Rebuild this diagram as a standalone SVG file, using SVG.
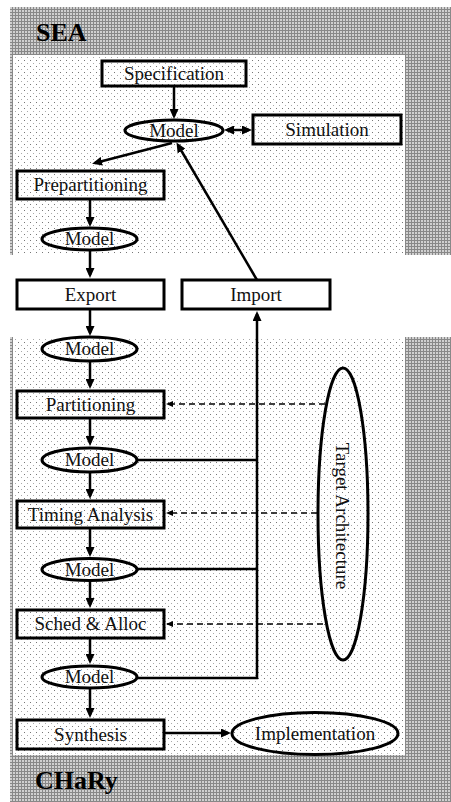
<svg xmlns="http://www.w3.org/2000/svg" width="451" height="802" viewBox="0 0 451 802">
<style>
.box{fill:none;stroke:#000;stroke-width:3}
.ell{fill:none;stroke:#000;stroke-width:3}
.t{font-family:"Liberation Serif","Times New Roman",serif;font-size:19px;fill:#111;text-anchor:middle}
.title{font-family:"Liberation Serif","Times New Roman",serif;font-size:26px;font-weight:bold;fill:#000}
.ln{fill:none;stroke:#000;stroke-width:2.5}
.dash{fill:none;stroke:#000;stroke-width:1.3;stroke-dasharray:6 4}
</style>
<defs>
<pattern id="dark" width="3" height="3" patternUnits="userSpaceOnUse">
<rect width="3" height="3" fill="#d0d0d0"/>
<rect width="1" height="3" fill="#888"/>
<rect width="3" height="1" fill="#888"/>
</pattern>
<pattern id="dots" width="6" height="6" patternUnits="userSpaceOnUse">
<rect width="6" height="6" fill="#fff"/>
<rect x="0" y="0" width="1" height="1" fill="#777"/>
<rect x="3" y="3" width="1" height="1" fill="#aaa"/>
</pattern>
<marker id="ah" viewBox="0 0 10 9" markerWidth="10" markerHeight="9" refX="7" refY="4.5" markerUnits="userSpaceOnUse" orient="auto-start-reverse">
<path d="M0,0 L10,4.5 L0,9 z" fill="#000"/>
</marker>
<marker id="ahs" viewBox="0 0 7 6" markerWidth="7" markerHeight="6" refX="6" refY="3" markerUnits="userSpaceOnUse" orient="auto">
<path d="M0,0 L7,3 L0,6 z" fill="#000"/>
</marker>
</defs>

<g id="sea-region">
<rect x="10" y="7" width="441" height="248" fill="url(#dark)"/>
<rect x="13" y="55" width="392" height="200" fill="url(#dots)"/>
<text class="title" x="36" y="41">SEA</text>
</g>
<g id="chary-region">
<rect x="10" y="337" width="441" height="465" fill="url(#dark)"/>
<rect x="13" y="337" width="392" height="418" fill="url(#dots)"/>
<text class="title" x="35" y="789">CHaRy</text>
</g>

<g id="connectors">
<line class="ln" x1="174" y1="87" x2="174" y2="116" marker-end="url(#ah)"/>
<line class="ln" x1="227" y1="130" x2="249" y2="130" marker-start="url(#ah)" marker-end="url(#ah)"/>
<line class="ln" x1="172" y1="143" x2="95" y2="163" marker-end="url(#ah)"/>
<line class="ln" x1="257" y1="280" x2="178" y2="145" marker-end="url(#ah)"/>
<line class="ln" x1="90" y1="200" x2="90" y2="224" marker-end="url(#ah)"/>
<line class="ln" x1="90" y1="251" x2="90" y2="275" marker-end="url(#ah)"/>
<line class="ln" x1="90" y1="310" x2="90" y2="333" marker-end="url(#ah)"/>
<line class="ln" x1="90" y1="362" x2="90" y2="386" marker-end="url(#ah)"/>
<line class="ln" x1="90" y1="419" x2="90" y2="443" marker-end="url(#ah)"/>
<line class="ln" x1="90" y1="473" x2="90" y2="496" marker-end="url(#ah)"/>
<line class="ln" x1="90" y1="529" x2="90" y2="554" marker-end="url(#ah)"/>
<line class="ln" x1="90" y1="581" x2="90" y2="605" marker-end="url(#ah)"/>
<line class="ln" x1="90" y1="639" x2="90" y2="661" marker-end="url(#ah)"/>
<line class="ln" x1="90" y1="688" x2="90" y2="715" marker-end="url(#ah)"/>
<polyline class="ln" points="137,678 257,678 257,314" marker-end="url(#ah)"/>
<line class="ln" x1="137" y1="460" x2="257" y2="460"/>
<line class="ln" x1="137" y1="569" x2="257" y2="569"/>
<line class="ln" x1="165" y1="733" x2="228" y2="733" marker-end="url(#ah)"/>
<line class="dash" x1="325" y1="404" x2="167" y2="404" marker-end="url(#ahs)"/>
<line class="dash" x1="317" y1="513" x2="167" y2="513" marker-end="url(#ahs)"/>
<line class="dash" x1="323" y1="624" x2="167" y2="624" marker-end="url(#ahs)"/>
</g>

<g id="specification"><rect class="box" x="102" y="61" width="144" height="25"/><text class="t" x="174" y="79.5">Specification</text></g>
<g id="model1"><ellipse class="ell" cx="174" cy="130.5" rx="49" ry="10.5"/><text class="t" x="174" y="136.5">Model</text></g>
<g id="simulation"><rect class="box" x="253" y="115" width="148" height="29"/><text class="t" x="327" y="135.5">Simulation</text></g>
<g id="prepartitioning"><rect class="box" x="17" y="171" width="147" height="28"/><text class="t" x="90.5" y="191">Prepartitioning</text></g>
<g id="model2"><ellipse class="ell" cx="89.5" cy="239" rx="47.5" ry="11"/><text class="t" x="89.5" y="245">Model</text></g>
<g id="export"><rect class="box" x="17" y="280" width="147" height="29"/><text class="t" x="90.5" y="300.5">Export</text></g>
<g id="import"><rect class="box" x="182" y="280" width="148" height="29"/><text class="t" x="256" y="300.5">Import</text></g>
<g id="model3"><ellipse class="ell" cx="89.5" cy="349" rx="47.5" ry="12"/><text class="t" x="89.5" y="355">Model</text></g>
<g id="partitioning"><rect class="box" x="17" y="391" width="147" height="27"/><text class="t" x="90.5" y="410.5">Partitioning</text></g>
<g id="model4"><ellipse class="ell" cx="89.5" cy="460" rx="47.5" ry="12"/><text class="t" x="89.5" y="466">Model</text></g>
<g id="timing-analysis"><rect class="box" x="17" y="501" width="147" height="27"/><text class="t" x="90.5" y="520.5">Timing Analysis</text></g>
<g id="model5"><ellipse class="ell" cx="89.5" cy="569.5" rx="47.5" ry="11"/><text class="t" x="89.5" y="575.5">Model</text></g>
<g id="sched-alloc"><rect class="box" x="17" y="610" width="147" height="28"/><text class="t" x="90.5" y="630">Sched &amp; Alloc</text></g>
<g id="model6"><ellipse class="ell" cx="89.5" cy="677" rx="47.5" ry="11"/><text class="t" x="89.5" y="683">Model</text></g>
<g id="synthesis"><rect class="box" x="17" y="720" width="147" height="29"/><text class="t" x="90.5" y="740.5">Synthesis</text></g>
<g id="implementation"><ellipse class="ell" cx="315" cy="733.5" rx="83" ry="21"/><text class="t" x="315" y="739.5">Implementation</text></g>
<g id="target-architecture"><ellipse class="ell" cx="343" cy="514" rx="25" ry="146"/><text class="t" transform="translate(342,516) rotate(90)" x="0" y="6">Target Architecture</text></g>
</svg>
